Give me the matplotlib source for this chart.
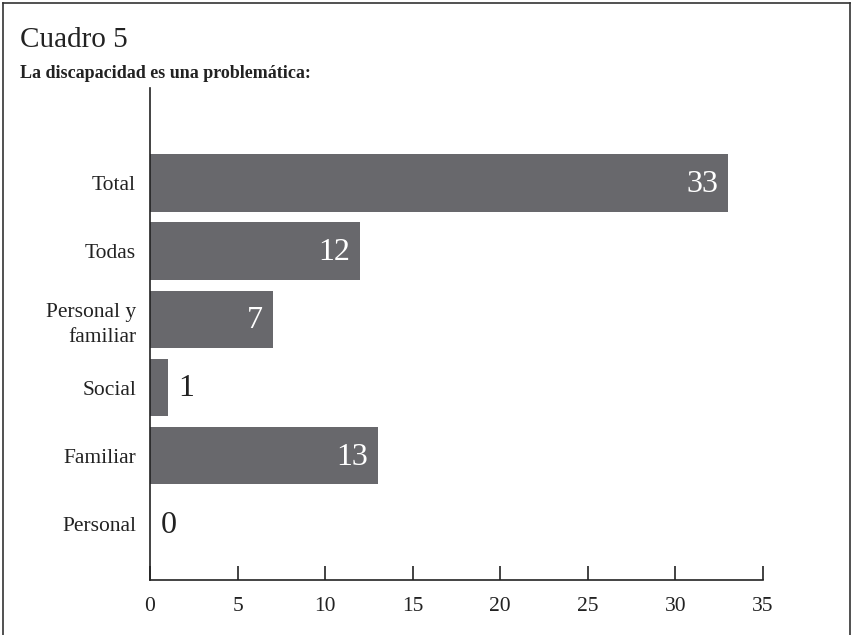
import matplotlib
matplotlib.use("Agg")
import matplotlib.pyplot as plt
from matplotlib.lines import Line2D

categories = ["Personal", "Familiar", "Social", "Personal y\nfamiliar", "Todas", "Total"]
values = [0, 13, 1, 7, 12, 33]
xticks = [0, 5, 10, 15, 20, 25, 30, 35]

plt.rcParams['font.family'] = ['Liberation Serif', 'DejaVu Serif']

W, H = 852, 635
fig = plt.figure(figsize=(W/100, H/100), dpi=100)
ax = fig.add_axes([150/W, 1-580/H, (763-150)/W, (580-88)/H])

bar_color = "#68686c"
ypos = list(range(len(categories)))
ax.barh(ypos, values, height=0.84, color=bar_color)

for y, v in zip(ypos, values):
    if v >= 5:
        ax.annotate(str(v), xy=(v, y), xytext=(-7, -1), textcoords="offset points",
                    ha="right", va="center", color="white", fontsize=23)
    else:
        ax.annotate(str(v), xy=(v, y), xytext=(8, -1), textcoords="offset points",
                    ha="left", va="center", color="#222222", fontsize=23)

ax.set_xlim(0, 35)
ax.set_ylim(-0.82, 6.39)
ax.set_yticks(ypos)
ax.set_yticklabels(categories, fontsize=15.5, color="#222222", linespacing=1.45)
ax.tick_params(axis="y", length=0, pad=10)
ax.set_xticks(xticks)
ax.set_xticklabels([str(t) for t in xticks], fontsize=15.5, color="#222222")
ax.tick_params(axis="x", direction="in", length=10, width=1.2, color="#222222", pad=12)
for lab in ax.get_yticklabels():
    lab.set_ha("right")
    lab.set_multialignment("right")

ax.spines["top"].set_visible(False)
ax.spines["right"].set_visible(False)
ax.spines["left"].set_color("#222222")
ax.spines["bottom"].set_color("#222222")
ax.spines["left"].set_linewidth(1.2)
ax.spines["bottom"].set_linewidth(1.2)

fig.text(20/W, 1-47/H, "Cuadro 5", fontsize=21, color="#222222", ha="left", va="baseline")
fig.text(20/W, 1-78/H, "La discapacidad es una problemática:", fontsize=13,
         fontweight="bold", color="#222222", ha="left", va="baseline")

# frame
lw = 1.2
fig.add_artist(Line2D([3/W, 3/W], [0, 1-3/H], transform=fig.transFigure, color="#333333", lw=lw))
fig.add_artist(Line2D([3/W, 850/W], [1-3/H, 1-3/H], transform=fig.transFigure, color="#333333", lw=lw))
fig.add_artist(Line2D([850/W, 850/W], [0, 1-3/H], transform=fig.transFigure, color="#333333", lw=lw))

fig.savefig("out.png", dpi=100)
